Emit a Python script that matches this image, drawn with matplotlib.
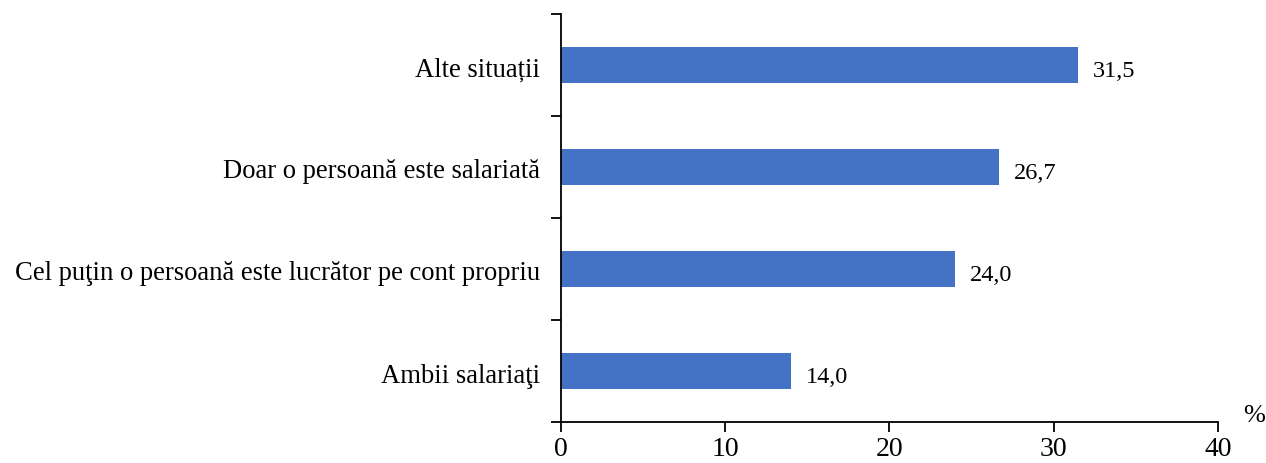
import matplotlib
matplotlib.use("Agg")
import matplotlib.pyplot as plt

categories = [
    "Ambii salariaţi",
    "Cel puţin o persoană este lucrător pe cont propriu",
    "Doar o persoană este salariată",
    "Alte situații",
]
values = [14.0, 24.0, 26.7, 31.5]
value_labels = ["14,0", "24,0", "26,7", "31,5"]
x_ticks = [0, 10, 20, 30, 40]

plt.rcParams["font.family"] = ["Liberation Serif", "DejaVu Serif"]

fig = plt.figure(figsize=(12.66, 4.63), dpi=100)
ax = fig.add_axes([0.443, 0.0886, 0.519, 0.8814])

pos = list(range(len(categories)))
ax.barh(pos, values, height=0.35, color="#4472C4")

# value labels to the right of each bar
for y, v, lab in zip(pos, values, value_labels):
    ax.text(v + 0.9, y - 0.06, lab, va="center", ha="left", fontsize=17.5)

ax.set_xlim(0, 40)
ax.set_ylim(-0.5, len(categories) - 0.5)
ax.set_xticks(x_ticks)
ax.set_xticklabels([str(t) for t in x_ticks], fontsize=20)

# boundary ticks on major, category names on minor
ax.set_yticks([p + 0.5 for p in [-1] + pos])
ax.set_yticklabels([])
ax.set_yticks([p - 0.02 for p in pos], minor=True)
ax.set_yticklabels(categories, minor=True, fontsize=19.2)
ax.tick_params(axis="y", which="minor", length=0, pad=15)
ax.tick_params(axis="y", which="major", length=7, width=1.3)
ax.tick_params(axis="x", length=7, width=1.3, pad=4)

for side in ("top", "right"):
    ax.spines[side].set_visible(False)
for side in ("left", "bottom"):
    ax.spines[side].set_linewidth(1.3)

ax.text(1.038, 0.015, "%", transform=ax.transAxes, ha="left", va="center", fontsize=19)

fig.savefig("out.png", dpi=100)
